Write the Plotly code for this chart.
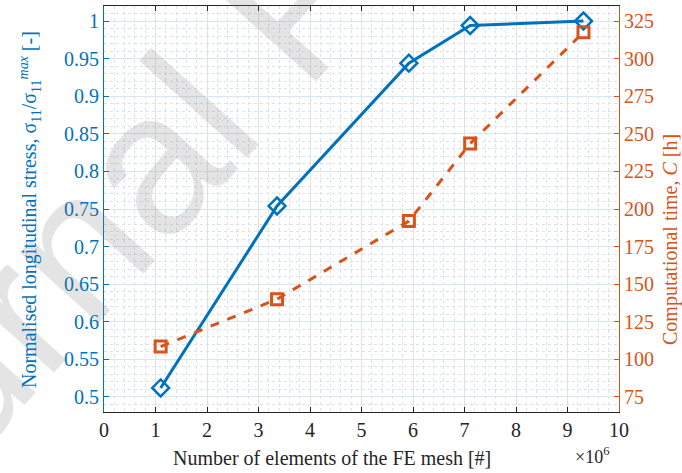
import plotly.graph_objects as go

# Data (x in millions of elements)
n_elements = [1.10, 3.36, 5.92, 7.11, 9.31]
norm_stress = [0.512, 0.754, 0.944, 0.994, 1.0]
comp_time = [108.5, 140.0, 192.0, 243.5, 317.5]

x_ticks = list(range(0, 11))
y1_ticks = [0.5, 0.55, 0.6, 0.65, 0.7, 0.75, 0.8, 0.85, 0.9, 0.95, 1]
y1_labels = ["0.5", "0.55", "0.6", "0.65", "0.7", "0.75", "0.8", "0.85", "0.9", "0.95", "1"]
y2_ticks = [75, 100, 125, 150, 175, 200, 225, 250, 275, 300, 325]

BLUE = "#0072BD"
ORANGE = "#D95319"
DARK = "#262626"
FONT = "Liberation Serif"

fig = go.Figure()
fig.add_trace(go.Scatter(
    x=n_elements, y=norm_stress, mode="lines+markers",
    line=dict(color=BLUE, width=3),
    marker=dict(symbol="diamond-open", size=13, color=BLUE, line=dict(width=2.5, color=BLUE)),
    yaxis="y", showlegend=False))
fig.add_trace(go.Scatter(
    x=n_elements, y=comp_time, mode="lines+markers",
    line=dict(color=ORANGE, width=3, dash="dash"),
    marker=dict(symbol="square-open", size=11, color=ORANGE, line=dict(width=3, color=ORANGE)),
    yaxis="y2", showlegend=False))

fig.update_layout(
    width=682, height=473,
    margin=dict(l=104, r=63, t=6, b=61),
    paper_bgcolor="white", plot_bgcolor="white",
    font=dict(family=FONT, size=20, color=DARK),
    xaxis=dict(
        range=[0, 10], tickvals=x_ticks, ticktext=[str(v) for v in x_ticks],
        ticks="inside", ticklen=5, tickcolor=DARK, tickwidth=1,
        showline=True, linecolor=DARK, linewidth=1, mirror="ticks",
        showgrid=True, gridcolor="#e1e1e1", gridwidth=1,
        minor=dict(dtick=0.2, showgrid=True, gridcolor="#dde2e6", griddash="dot", gridwidth=1),
        tickfont=dict(family=FONT, size=20, color=DARK), zeroline=False),
    yaxis=dict(
        range=[0.48, 1.02], tickvals=y1_ticks, ticktext=y1_labels,
        ticks="inside", ticklen=5, tickcolor=BLUE, tickwidth=1,
        showline=True, linecolor=BLUE, linewidth=1,
        showgrid=True, gridcolor="#d6e6f3", gridwidth=1,
        minor=dict(dtick=0.01, showgrid=True, gridcolor="#dbe3ea", griddash="dot", gridwidth=1),
        tickfont=dict(family=FONT, size=20, color=BLUE), zeroline=False),
    yaxis2=dict(
        range=[65, 335], tickvals=y2_ticks, ticktext=[str(v) for v in y2_ticks],
        overlaying="y", side="right",
        ticks="inside", ticklen=5, tickcolor=ORANGE, tickwidth=1,
        showline=True, linecolor=ORANGE, linewidth=1,
        showgrid=False, zeroline=False,
        tickfont=dict(family=FONT, size=20, color=ORANGE)),
)

annotations = [
    # watermark
    dict(text="Journal Pre-proof", xref="paper", yref="paper", x=0.37, y=1.01,
         xanchor="center", yanchor="middle", textangle=-48, showarrow=False,
         font=dict(family="Liberation Sans", size=200, color="rgba(120,120,120,0.2)")),
    # x label
    dict(text="Number of elements of the FE mesh [#]", xref="paper", yref="paper",
         x=(332 - 104) / 515, y=-(458 - 412) / 406, xanchor="center", yanchor="middle",
         showarrow=False, font=dict(family=FONT, size=20, color=DARK)),
    dict(text="×10<sup>6</sup>", xref="paper", yref="paper",
         x=(592 - 104) / 515, y=-(455 - 412) / 406, xanchor="center", yanchor="middle",
         showarrow=False, font=dict(family=FONT, size=18, color=DARK)),
    # left y label
    dict(text="Normalised longitudinal stress, σ<sub>11</sub>/σ<sub>11</sub><sup><i>max</i></sup> [-]",
         xref="paper", yref="paper", x=-(104 - 30) / 515, y=(412 - 210) / 406,
         xanchor="center", yanchor="middle", textangle=-90, showarrow=False,
         font=dict(family=FONT, size=20, color=BLUE)),
    # right y label
    dict(text="Computational time, <i>C</i> [h]",
         xref="paper", yref="paper", x=(670 - 104) / 515, y=(412 - 240) / 406,
         xanchor="center", yanchor="middle", textangle=-90, showarrow=False,
         font=dict(family=FONT, size=20, color=ORANGE)),
]
fig.update_layout(annotations=annotations)

fig.write_html("out.html")
